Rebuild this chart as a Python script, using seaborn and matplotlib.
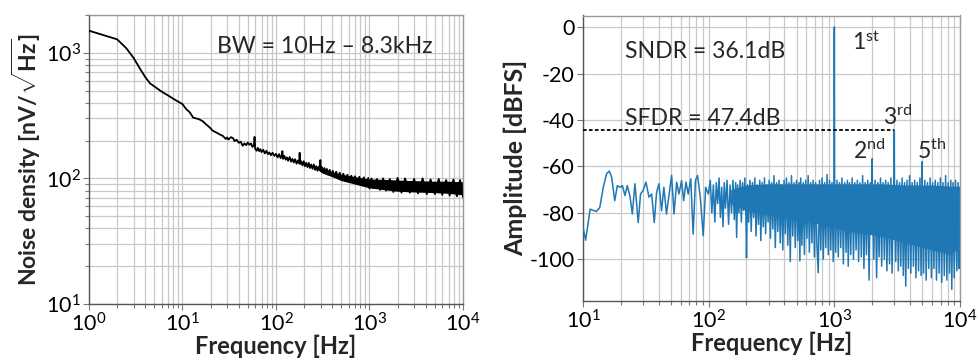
import matplotlib
matplotlib.use("Agg")
import matplotlib.pyplot as plt
import seaborn as sns
import numpy as np
from matplotlib.ticker import LogLocator, NullFormatter

# ---------------- data ----------------
# Left: noise density trace (Hz, nV/sqrt(Hz))
noise_freq = [1, 2, 2.5, 3, 3.5, 4, 4.5, 5, 6, 7, 8, 9, 10, 11, 12, 13, 14, 15, 16.5, 18,
              19.5, 21, 23, 25, 27, 29, 30, 31, 33, 35, 36, 38, 40, 42, 44, 46, 48, 50, 52, 54,
              56, 58, 59, 60, 62, 64, 66, 68, 70, 73, 76, 79, 82, 85, 88, 92, 96, 100, 104, 108,
              112, 115, 117, 119, 123, 127, 131, 135, 140, 145, 150, 155, 160, 166, 172, 177, 179, 181, 186, 192,
              198, 204, 210, 217, 224, 231, 238, 246, 254, 262, 270, 278, 286, 294, 298, 302, 310, 320, 330, 340,
              350, 360, 375, 390, 405, 420, 440, 460, 480, 500, 525, 550, 580, 610, 640, 670, 700, 740, 780, 820,
              870, 920, 970, 1000, 1050, 1100, 1200, 1300, 1400, 1500, 1650, 1800, 2000, 2200, 2400, 2700, 3000, 3300, 3700, 4100,
              4500, 5000, 5500, 6000, 6600, 7200, 7900, 8600, 9300, 10000]
noise_val = [1500, 1280, 1090, 910, 750, 640, 570, 540, 490, 458, 430, 408, 390, 355, 335, 305, 300, 296, 285, 268,
             255, 240, 232, 224, 218, 206, 212, 204, 213, 208, 198, 203, 192, 196, 182, 190, 184, 193, 185, 190,
             178, 184, 214, 172, 166, 175, 165, 171, 162, 169, 158, 166, 156, 161, 153, 160, 151, 157, 147, 156,
             145, 151, 165, 143, 151, 141, 147, 138, 148, 136, 143, 134, 142, 131, 139, 132, 160, 130, 137, 127,
             137, 125, 133, 123, 133, 121, 129, 119, 129, 117, 125, 115, 124, 116, 140, 114, 123, 111, 121, 109,
             119, 107, 117, 105, 115, 103, 113, 101, 111, 98, 109, 96, 107, 95, 105, 93, 104, 91, 103, 89,
             102, 87, 101, 83, 100, 84, 99, 81, 100, 80, 99, 78, 101, 77, 100, 77, 99, 76, 100, 75,
             98, 75, 99, 74, 97, 73, 98, 72, 97, 71]
# Left: dense noise band (upper / lower edge)
noise_band_f = [300, 400, 500, 700, 1000, 1500, 2000, 3000, 5000, 7000, 10000]
noise_band_hi = [122, 113, 108, 103, 99, 98, 97, 96, 95, 95, 94]
noise_band_lo = [112, 103, 96, 90, 84, 81, 79, 78, 77, 76, 74]

# Right: output spectrum (Hz, dBFS)
spec_freq = [10, 10.5, 11.4, 12.1, 12.8, 13.6, 14.5, 15.4, 16.2, 16.9, 17.9, 18.75, 19.7, 20.6, 21.6, 22.5,
             23.6, 24.7, 25.9, 27.5, 28.7, 30.1, 31.7, 33.5, 35.2, 36.9, 38.5, 40.2, 42.2, 44, 46.2, 48.5,
             50.7, 53, 55.6, 58, 60.9, 63.2, 66, 68.7, 72.1, 75.2, 78.5, 81.5, 85.8, 90.5, 94.6, 99.4,
             103, 106, 109, 112, 115, 118, 121, 124, 127, 130, 133, 136, 140, 144, 148, 152,
             156, 160, 164, 167, 170, 174, 178, 182, 186, 190, 194, 198,
             200, 204, 208, 213, 218, 223, 228, 233, 238, 243, 249, 255, 260, 266, 272, 278,
             284, 290, 297, 303, 310, 317, 324, 331, 339, 347, 355, 363, 371, 380, 389, 398,
             407, 416, 426, 436, 446, 456, 467, 478, 489, 500, 512, 524, 532, 540, 552, 565,
             578, 591, 605, 619, 633, 648, 663, 678, 694, 710, 727, 745, 762, 780, 798, 817,
             836, 855, 875, 895, 916, 937, 958, 980, 995, 1000, 1005, 1025, 1050, 1075, 1100, 1125,
             1150, 1180, 1210, 1240, 1270, 1290, 1320, 1350, 1385, 1420, 1455, 1490, 1525, 1560, 1600, 1640,
             1680, 1720, 1760, 1800, 1845, 1890, 1935, 1990, 2000, 2010, 2060, 2110, 2170, 2220, 2270, 2330,
             2380, 2440, 2500, 2560, 2620, 2680, 2750, 2820, 2880, 2950, 2990, 3000, 3010, 3080, 3150, 3230,
             3300, 3380, 3460, 3540, 3620, 3700, 3790, 3880, 3970, 4060, 4160, 4260, 4360, 4460, 4570, 4680,
             4800, 4900, 4990, 5000, 5010, 5130, 5250, 5380, 5510, 5640, 5780, 5920, 6060, 6200, 6350, 6500,
             6660, 6820, 6980, 7150, 7320, 7500, 7680, 7860, 8050, 8250, 8450, 8600, 8800, 9000, 9220, 9440,
             9660, 9800, 10000]
spec_db = [-86.3, -91.8, -78.4, -79, -79.4, -77.7, -69, -63.2, -62, -64.7, -74.8, -68.3, -69, -68.3, -72.6, -68.3,
           -72.6, -80.5, -67.5, -84.2, -71.9, -70.4, -66.8, -73.3, -71.9, -84.2, -71.2, -67.5, -79.1, -69, -80.5, -71.9,
           -63.9, -80.5, -66.8, -71.9, -66.1, -74.8, -66.8, -71.9, -65.4, -89.2, -66.1, -63.9, -73.3, -89.9, -69, -71.9,
           -66, -80, -68, -84, -67, -76, -65, -82, -69, -86, -67, -78, -66, -85, -68, -80,
           -66, -83, -67, -90.6, -68, -80, -66, -84, -67, -79, -65, -82,
           -99.4, -68, -84, -66, -88, -67, -82, -65, -90, -68, -85, -66, -92, -67, -86, -65,
           -89, -68, -84, -66, -91, -67, -87, -64, -95, -67, -88, -66, -93, -68, -96, -66,
           -89, -65, -94, -67, -101, -64, -90, -67, -95, -66, -92, -67, -100.7, -65, -94, -67,
           -98, -66, -91, -64, -97, -67, -93, -66, -99, -67, -94, -105.8, -66, -96, -65, -100,
           -67, -95, -63.5, -98, -66, -96, -67, -101, -70, 0, -71, -97, -66, -99, -67, -95,
           -65, -102, -67, -97, -66, -103, -67, -98, -65, -100, -67, -96, -66, -101, -67, -99,
           -64, -104, -67, -98, -66, -109, -67, -70, -56.7, -71, -100, -66, -108, -67, -99, -65,
           -103, -67, -100, -66, -105, -67, -102, -65, -106, -68, -72, -44.5, -72, -101, -66, -105,
           -67, -103, -65, -107, -67, -111.6, -66, -104, -64, -106, -67, -103, -66, -108, -67, -105,
           -65, -107, -72, -58, -72, -106, -66, -109, -67, -104, -65, -108, -67, -104, -66, -109,
           -67, -106, -65, -110, -67, -107, -64, -109, -67, -106, -66, -113, -67, -108, -66, -105,
           -67, -104, -96]
# Right: dense noise floor core (upper / lower edge)
spec_band_f = [150, 200, 300, 500, 800, 1300, 2300, 3700, 6000, 8300, 10000]
spec_band_hi = [-70, -68, -67.5, -67.5, -67.5, -67.5, -67.5, -68, -68, -68.5, -68.5]
spec_band_lo = [-76, -79, -81, -83, -85, -88, -90, -93, -96, -98, -95]

sfdr_level = -44.5
sfdr_stop = 3000
harm_labels = ["1", "2", "3", "5"]
harm_sups = ["st", "nd", "rd", "th"]
harm_text_x = [1380, 1405, 2440, 4540]
harm_text_y = [-9.8, -57, -42, -57]

# ---------------- style ----------------
sns.set_theme(style="white")
plt.rcParams["font.family"] = ["Lato", "DejaVu Sans"]
plt.rcParams["mathtext.fontset"] = "custom"
plt.rcParams["mathtext.rm"] = "Lato"
plt.rcParams["mathtext.it"] = "Lato:italic"
plt.rcParams["mathtext.bf"] = "Lato:bold"
plt.rcParams["axes.unicode_minus"] = False

GRID = "#c8c8c8"
TICK_FS = 15.5
LABEL_FS = 17
TEXT_FS = 16.6

fig = plt.figure(figsize=(9.79, 3.63), dpi=100)
ax1 = fig.add_axes([89 / 979, 1 - 304 / 363, (463 - 89) / 979, (304 - 15) / 363])
ax2 = fig.add_axes([583 / 979, 1 - 301 / 363, (960 - 583) / 979, (301 - 15.5) / 363])

# ---- left panel ----
ax1.set_xscale("log")
ax1.set_yscale("log")
ax1.fill_between(noise_band_f, noise_band_lo, noise_band_hi, color="black", lw=0, zorder=2)
sns.lineplot(x=noise_freq, y=noise_val, ax=ax1, color="black", lw=1.3,
             estimator=None, sort=False, zorder=3)
ax1.set_xlim(1, 1e4)
ax1.set_ylim(10, 2000)
ax1.xaxis.set_major_locator(LogLocator(base=10, numticks=10))
ax1.xaxis.set_minor_locator(LogLocator(base=10, subs=np.arange(2, 10), numticks=50))
ax1.yaxis.set_major_locator(LogLocator(base=10, numticks=10))
ax1.yaxis.set_minor_locator(LogLocator(base=10, subs=np.arange(2, 10), numticks=50))
ax1.xaxis.set_minor_formatter(NullFormatter())
ax1.yaxis.set_minor_formatter(NullFormatter())
ax1.grid(True, which="both", color=GRID, lw=0.9)
ax1.text(23.4, 1120, "BW = 10Hz – 8.3kHz", fontsize=TEXT_FS, va="center", ha="left")
ax1.set_xlabel("Frequency [Hz]", fontsize=LABEL_FS, fontweight="bold", labelpad=-1)
ax1.set_ylabel(r"Noise density [nV/$\mathbf{\sqrt{Hz}}$]", fontsize=LABEL_FS - 0.5,
               fontweight="bold", labelpad=2)

# ---- right panel ----
ax2.set_xscale("log")
ax2.fill_between(spec_band_f, spec_band_lo, spec_band_hi, color="#1f77b4", lw=0, zorder=2)
sns.lineplot(x=spec_freq, y=spec_db, ax=ax2, color="#1f77b4", lw=1.1,
             estimator=None, sort=False, zorder=3)
ax2.plot([10, sfdr_stop], [sfdr_level, sfdr_level], color="black", lw=1.3,
         linestyle=(0, (2, 1.3)), zorder=4)
ax2.set_xlim(10, 1e4)
ax2.set_ylim(-118, 5)
ax2.set_yticks([0, -20, -40, -60, -80, -100])
ax2.xaxis.set_major_locator(LogLocator(base=10, numticks=10))
ax2.xaxis.set_minor_locator(LogLocator(base=10, subs=np.arange(2, 10), numticks=50))
ax2.xaxis.set_minor_formatter(NullFormatter())
ax2.grid(True, which="major", color=GRID, lw=0.9)
ax2.grid(True, which="minor", axis="x", color=GRID, lw=0.9)
ax2.text(21.6, -10.7, "SNDR = 36.1dB", fontsize=TEXT_FS, va="center", ha="left")
ax2.text(21.6, -39.2, "SFDR = 47.4dB", fontsize=TEXT_FS, va="center", ha="left")
for lab, sup, hx, hy in zip(harm_labels, harm_sups, harm_text_x, harm_text_y):
    ax2.text(hx, hy, lab + r"$^{\mathregular{" + sup + "}}$", fontsize=TEXT_FS,
             va="baseline", ha="left")
ax2.set_xlabel("Frequency [Hz]", fontsize=LABEL_FS, fontweight="bold", labelpad=-1)
ax2.set_ylabel("Amplitude [dBFS]", fontsize=LABEL_FS + 1, fontweight="bold", labelpad=2)

for ax in (ax1, ax2):
    ax.tick_params(which="both", direction="out", colors="#777777", labelcolor="black",
                   labelsize=TICK_FS, width=0.8)
    ax.tick_params(which="major", length=4, pad=2)
    ax.tick_params(which="minor", length=3)
    ax.tick_params(axis="y", which="both", left=True)
    ax.tick_params(axis="x", which="both", bottom=True)
    for s in ("left", "bottom"):
        ax.spines[s].set_color("#555555")
        ax.spines[s].set_linewidth(1.0)
    for s in ("top", "right"):
        ax.spines[s].set_color("#999999")
        ax.spines[s].set_linewidth(1.0)
    ax.set_axisbelow(True)

fig.savefig("out.png", dpi=100)
